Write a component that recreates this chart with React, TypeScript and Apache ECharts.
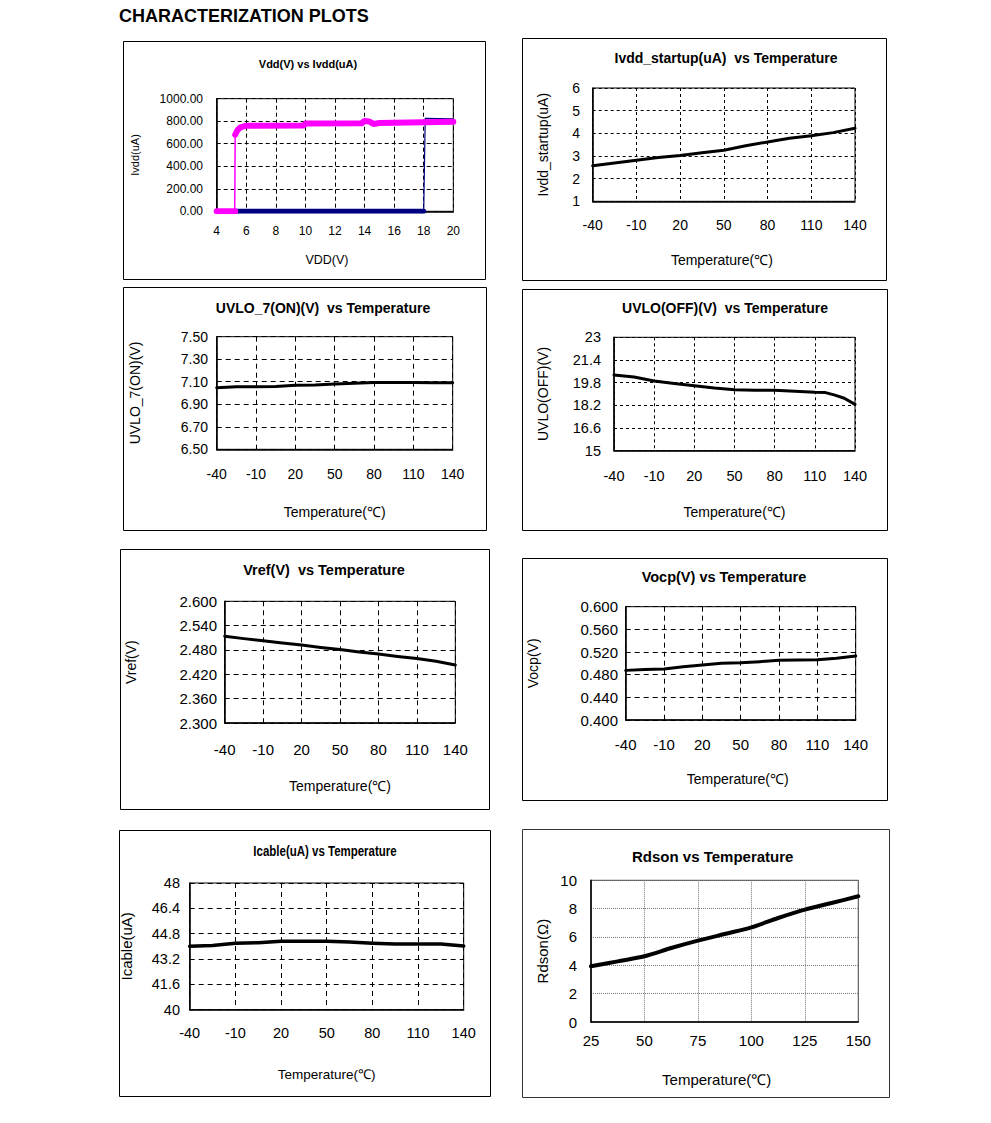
import React, { useEffect, useRef } from "react";
import * as echarts from "echarts";

const FONT = "'Liberation Sans', Arial, Helvetica, sans-serif";
const NARROW = "'Liberation Sans Narrow', 'Arial Narrow', 'Liberation Sans', Arial, sans-serif";

const pageTitle = "CHARACTERIZATION PLOTS";

// Panel 1: Vdd(V) vs Ivdd(uA)
const vddOnBase = [[4, 0], [5.25, 0]];
const vddOnRise = [[5.22, 0], [5.25, 680]];
const vddOnCurve = [
  [5.25, 680], [5.4, 720], [5.6, 745], [6, 760], [9.9, 763], [10, 780],
  [13.8, 782], [14, 802], [14.3, 798], [14.6, 776], [15, 784], [20, 795],
];
const vddOffBase = [[5.3, 0], [18, 0]];
const vddOffRise = [[18, 0], [18.1, 825], [20, 822]];

// Temperature sweeps
const temps = [-40, -25, -10, 5, 20, 35, 50, 65, 80, 95, 110, 125, 140];
const ivddStartup = [2.57, 2.69, 2.81, 2.93, 3.02, 3.14, 3.25, 3.45, 3.62, 3.78, 3.89, 4.03, 4.22];
const uvloOn = [7.047, 7.055, 7.056, 7.058, 7.068, 7.072, 7.08, 7.086, 7.093, 7.093, 7.093, 7.092, 7.091];
const uvloOffTemps = [-40, -25, -10, 5, 20, 35, 50, 65, 80, 95, 110, 118, 125, 132, 140];
const uvloOff = [20.34, 20.2, 19.92, 19.74, 19.58, 19.42, 19.3, 19.27, 19.26, 19.2, 19.12, 19.1, 18.92, 18.7, 18.27];
const vref = [2.514, 2.508, 2.503, 2.497, 2.492, 2.486, 2.481, 2.475, 2.47, 2.464, 2.459, 2.452, 2.443];
const vocp = [0.4876, 0.489, 0.49, 0.494, 0.497, 0.5, 0.501, 0.503, 0.5053, 0.506, 0.5065, 0.509, 0.513];
const icable = [44.0, 44.06, 44.2, 44.23, 44.32, 44.32, 44.32, 44.28, 44.2, 44.15, 44.15, 44.15, 44.02];
const rdsonTemps = [25, 37.5, 50, 62.5, 75, 87.5, 100, 112.5, 125, 137.5, 150];
const rdson = [3.93, 4.28, 4.64, 5.22, 5.74, 6.21, 6.68, 7.34, 7.93, 8.4, 8.87];

const zip = (xs: number[], ys: number[]) => xs.map((x, i) => [x, ys[i]]);

type S = { data: number[][]; color: string; width: number; smooth?: number };
type Panel = {
  box: number[];
  plot: number[];
  title: string;
  titlePos: number[];
  titleSize: number;
  titleScaleX?: number;
  font: string;
  tickSize: number;
  xName: string;
  yName: string;
  nameSize: number;
  yNameSize: number;
  xNameShift?: number;
  x: number[];
  y: number[];
  fmt: (v: number) => string;
  xMargin: number;
  yMargin: number;
  xNameGap: number;
  yNameGap: number;
  split: any;
  boxColor?: string;
  series: S[];
};

const TEMP = "Temperature(℃)";
const dash = { color: "#000", type: [4, 3], width: 1 };
const fix = (d: number) => (v: number) => v.toFixed(d);
const plain = (v: number) => String(+v.toFixed(2));

const panels: Panel[] = [
  {
    box: [123, 41, 485, 279], plot: [216.7, 98.7, 453.3, 211.3],
    title: "Vdd(V) vs Ivdd(uA)", titlePos: [308, 64], titleSize: 11, font: FONT,
    tickSize: 12, xName: "VDD(V)", yName: "Ivdd(uA)", nameSize: 12.5, yNameSize: 11, xNameShift: 8,
    x: [4, 20, 2], y: [0, 1000, 200], fmt: fix(2), xMargin: 13.5, yMargin: 13.7,
    xNameGap: 42.5, yNameGap: 76, split: { ...dash, type: [4, 3] },
    series: [
      { data: vddOffBase, color: "#000080", width: 5 },
      { data: vddOffRise, color: "#000080", width: 1.2 },
      { data: vddOnBase, color: "#FF00FF", width: 6 },
      { data: vddOnRise, color: "#FF00FF", width: 1.5 },
      { data: vddOnCurve, color: "#FF00FF", width: 6 },
    ],
  },
  {
    box: [522, 38, 886, 280], plot: [592.7, 88, 855, 201.3],
    title: "Ivdd_startup(uA)  vs Temperature", titlePos: [726, 58], titleSize: 14, font: FONT,
    tickSize: 14, xName: TEMP, yName: "Ivdd_startup(uA)", nameSize: 14, yNameSize: 14, xNameShift: 2,
    x: [-40, 140, 30], y: [1, 6, 1], fmt: plain, xMargin: 16.7, yMargin: 12.7,
    xNameGap: 51.7, yNameGap: 42.7, split: { ...dash, type: [3, 3] },
    series: [{ data: zip(temps, ivddStartup), color: "#000", width: 3 }],
  },
  {
    box: [123, 287, 486, 530], plot: [216.7, 336.7, 452.7, 449.3],
    title: "UVLO_7(ON)(V)  vs Temperature", titlePos: [323, 307.7], titleSize: 14, font: FONT,
    tickSize: 14, xName: TEMP, yName: "UVLO_7(ON)(V)", nameSize: 14, yNameSize: 14,
    x: [-40, 140, 30], y: [6.5, 7.5, 0.2], fmt: fix(2), xMargin: 17.7, yMargin: 8.7,
    xNameGap: 55.4, yNameGap: 74.7, split: { ...dash, type: [5, 4] },
    series: [{ data: zip(temps, uvloOn), color: "#000", width: 3 }],
  },
  {
    box: [522, 289, 887, 530], plot: [614, 337.3, 855, 450.7],
    title: "UVLO(OFF)(V)  vs Temperature", titlePos: [725, 307.7], titleSize: 14, font: FONT,
    tickSize: 14.5, xName: TEMP, yName: "UVLO(OFF)(V)", nameSize: 14, yNameSize: 14,
    x: [-40, 140, 30], y: [15, 23, 1.6], fmt: plain, xMargin: 17.3, yMargin: 13,
    xNameGap: 54, yNameGap: 64, split: { ...dash, type: [3, 3] },
    series: [{ data: zip(uvloOffTemps, uvloOff), color: "#000", width: 3 }],
  },
  {
    box: [120, 549, 489, 809], plot: [224.7, 601.3, 455.3, 723],
    title: "Vref(V)  vs Temperature", titlePos: [324, 569.7], titleSize: 14.5, font: FONT,
    tickSize: 15, xName: TEMP, yName: "Vref(V)", nameSize: 14, yNameSize: 14,
    x: [-40, 140, 30], y: [2.3, 2.6, 0.06], fmt: fix(3), xMargin: 18.5, yMargin: 7.7,
    xNameGap: 56, yNameGap: 87, split: { ...dash, type: [5, 4] },
    series: [{ data: zip(temps, vref), color: "#000", width: 3 }],
  },
  {
    box: [522, 558, 887, 800], plot: [625.7, 606.7, 855.7, 720],
    title: "Vocp(V) vs Temperature", titlePos: [724, 576.7], titleSize: 14.5, font: FONT,
    tickSize: 15, xName: TEMP, yName: "Vocp(V)", nameSize: 14, yNameSize: 14, xNameShift: 3,
    x: [-40, 140, 30], y: [0.4, 0.6, 0.04], fmt: fix(3), xMargin: 16.5, yMargin: 7.7,
    xNameGap: 52, yNameGap: 85.7, split: { ...dash, type: [5, 4] },
    series: [{ data: zip(temps, vocp), color: "#000", width: 3 }],
  },
  {
    box: [119, 830, 490, 1096], plot: [189.7, 883, 463.7, 1009.7],
    title: "Icable(uA) vs Temperature", titlePos: [325, 851.3], titleSize: 14, titleScaleX: 0.82, font: NARROW,
    tickSize: 14.5, xName: TEMP, yName: "Icable(uA)", nameSize: 13.5, yNameSize: 15,
    x: [-40, 140, 30], y: [40, 48, 1.6], fmt: plain, xMargin: 15.3, yMargin: 9.7,
    xNameGap: 57.5, yNameGap: 56, split: { ...dash, type: [5, 4] },
    series: [{ data: zip(temps, icable), color: "#000", width: 3.5 }],
  },
  {
    box: [522, 829, 889, 1097], plot: [591, 880.3, 858.3, 1022],
    title: "Rdson vs Temperature", titlePos: [712.7, 856.3], titleSize: 15, font: FONT,
    tickSize: 15, xName: TEMP, yName: "Rdson(Ω)", nameSize: 15, yNameSize: 15, xNameShift: 8,
    x: [25, 150, 25], y: [0, 10, 2], fmt: plain, xMargin: 10.5, yMargin: 14,
    xNameGap: 50.2, yNameGap: 40.8, split: { color: "#777", type: [1, 1], width: 1 },
    boxColor: "#333",
    series: [{ data: zip(rdsonTemps, rdson), color: "#000", width: 4, smooth: 0.3 }],
  },
];

function buildOption() {
  const grid: any[] = [];
  const xAxis: any[] = [];
  const yAxis: any[] = [];
  const series: any[] = [];
  const graphic: any[] = [];

  panels.forEach((p, i) => {
    const [l, t, r, b] = p.plot;
    grid.push({
      left: l, top: t, width: r - l, height: b - t,
      show: true, borderColor: p.boxColor || "#000", borderWidth: 1,
      containLabel: false, outerBoundsMode: "none",
    });
    const lbl = { color: "#000", fontSize: p.tickSize, fontFamily: p.font };
    const shift = p.xNameShift || 0;
    xAxis.push({
      type: "value", gridIndex: i, min: p.x[0], max: p.x[1], interval: p.x[2],
      axisLine: { show: true, onZero: false, lineStyle: { color: "#000", width: 1.5 } },
      axisTick: { show: false },
      axisLabel: { ...lbl, margin: p.xMargin },
      splitLine: { show: true, lineStyle: p.split },
      name: p.xName, nameLocation: "middle", nameGap: p.xNameGap, nameMoveOverlap: false,
      nameTextStyle: {
        color: "#000", fontSize: p.nameSize, fontFamily: p.font,
        padding: [0, shift * 2, 0, 0],
      },
    });
    yAxis.push({
      type: "value", gridIndex: i, min: p.y[0], max: p.y[1], interval: p.y[2],
      axisLine: { show: true, onZero: false, lineStyle: { color: "#000", width: 1.5 } },
      axisTick: { show: false },
      axisLabel: { ...lbl, margin: p.yMargin, formatter: p.fmt },
      splitLine: { show: true, lineStyle: p.split },
      name: p.yName, nameLocation: "middle", nameGap: p.yNameGap, nameMoveOverlap: false,
      nameTextStyle: { color: "#000", fontSize: p.yNameSize, fontFamily: p.font },
    });
    p.series.forEach((s) => {
      series.push({
        type: "line", xAxisIndex: i, yAxisIndex: i, data: s.data,
        symbol: "none", smooth: s.smooth || false, silent: true,
        lineStyle: { color: s.color, width: s.width, cap: "round", join: "round" },
      });
    });
    const [bx1, by1, bx2, by2] = p.box;
    graphic.push({
      type: "rect", silent: true,
      shape: { x: bx1 + 0.5, y: by1 + 0.5, width: bx2 - bx1, height: by2 - by1 },
      style: { fill: "none", stroke: p.boxColor || "#000", lineWidth: 1 },
    });
    graphic.push({
      type: "text", silent: true, x: p.titlePos[0], y: p.titlePos[1],
      scaleX: p.titleScaleX || 1,
      style: {
        text: p.title, textAlign: "center", textVerticalAlign: "middle",
        font: `bold ${p.titleSize}px ${p.font}`, fill: "#000",
      },
    });
  });

  return {
    animation: false,
    backgroundColor: "#fff",
    title: {
      text: pageTitle, left: 119, top: 7, padding: 0,
      textStyle: { fontFamily: FONT, fontSize: 18, fontWeight: "bold", color: "#000" },
    },
    grid, xAxis, yAxis, series, graphic,
  };
}

export default function App() {
  const ref = useRef<HTMLDivElement>(null);
  useEffect(() => {
    if (!ref.current) return;
    const chart = echarts.init(ref.current, undefined, { renderer: "svg" });
    chart.setOption(buildOption() as any);
    return () => chart.dispose();
  }, []);
  return (
    <div
      ref={ref}
      style={{ position: "absolute", left: 0, top: 0, width: 991, height: 1123, background: "#fff" }}
    />
  );
}
